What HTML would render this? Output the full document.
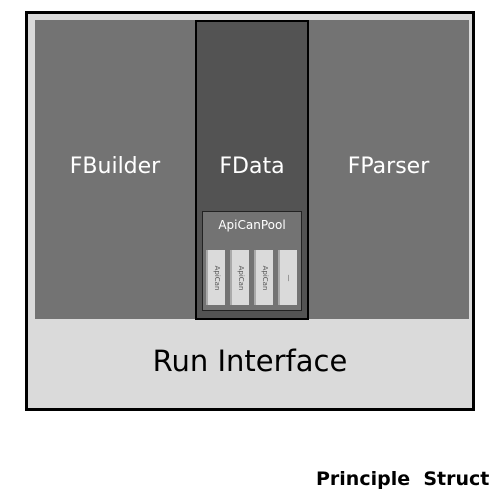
<!DOCTYPE html>
<html><head><style>
body{margin:0;width:500px;height:500px;background:#fff;position:relative;overflow:hidden;font-family:"DejaVu Sans","Liberation Sans",sans-serif}
div{position:absolute;box-sizing:border-box}
.t{color:#fff;font-size:22px;text-align:center;line-height:22px}
.c{background:#dadada;border-left:2px solid #aaa;width:19px;height:55px;top:250px}
.c span{position:absolute;left:50%;top:50%;transform:translate(-50%,-50%) rotate(90deg);font-size:7px;color:#555;white-space:nowrap}
</style></head><body>
<div style="left:25px;top:11px;width:450px;height:400px;border:3px solid #000;background:#dadada"></div>
<div style="left:35px;top:20px;width:434px;height:299px;background:#737373"></div>
<div class="t" style="left:35px;top:156px;width:160px">FBuilder</div>
<div class="t" style="left:308px;top:156px;width:161px">FParser</div>
<div style="left:195px;top:20px;width:114px;height:300px;background:#535353;border:2px solid #000"></div>
<div class="t" style="left:195px;top:156px;width:114px">FData</div>
<div style="left:202px;top:211px;width:100px;height:100px;background:#737373;border:1.5px solid #222"></div>
<div style="left:202px;top:218px;width:100px;text-align:center;color:#fff;font-size:12px">ApiCanPool</div>
<div class="c" style="left:206px"><span>ApiCan</span></div>
<div class="c" style="left:230px"><span>ApiCan</span></div>
<div class="c" style="left:254px"><span>ApiCan</span></div>
<div class="c" style="left:278px"><span>—</span></div>
<div style="left:25px;top:346px;width:450px;text-align:center;font-size:29px;line-height:30px;color:#000">Run Interface</div>
<div style="left:316px;top:469px;font-size:19px;font-weight:bold;white-space:nowrap;line-height:20px">Principle&nbsp; Struct</div>
</body></html>
